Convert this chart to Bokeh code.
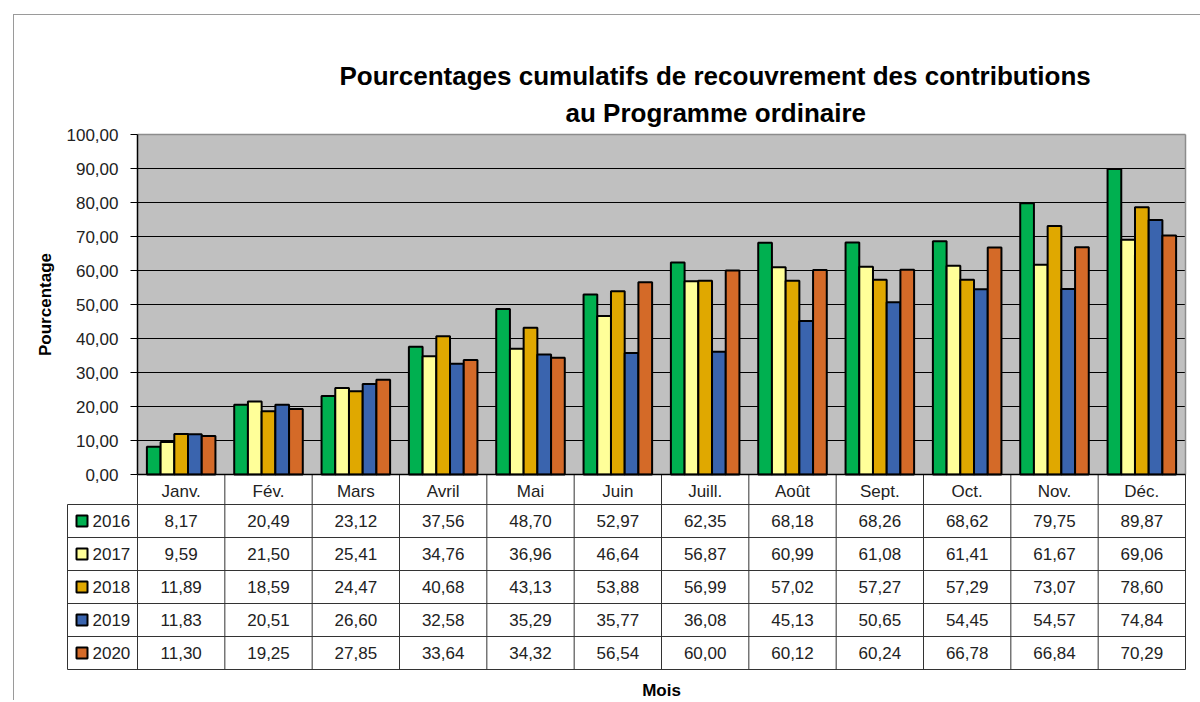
import math
from bokeh.plotting import figure
from bokeh.models import FixedTicker, Range1d, Title, ColumnDataSource, LinearAxis
from bokeh.transform import dodge
from bokeh.core.properties import value
from bokeh.embed import file_html
from bokeh.resources import INLINE

# ---------------- data ----------------
months = ["Janv.", "Fév.", "Mars", "Avril", "Mai", "Juin", "Juill.", "Août",
          "Sept.", "Oct.", "Nov.", "Déc."]
years = ["2016", "2017", "2018", "2019", "2020"]
v2016 = [8.17, 20.49, 23.12, 37.56, 48.70, 52.97, 62.35, 68.18, 68.26, 68.62, 79.75, 89.87]
v2017 = [9.59, 21.50, 25.41, 34.76, 36.96, 46.64, 56.87, 60.99, 61.08, 61.41, 61.67, 69.06]
v2018 = [11.89, 18.59, 24.47, 40.68, 43.13, 53.88, 56.99, 57.02, 57.27, 57.29, 73.07, 78.60]
v2019 = [11.83, 20.51, 26.60, 32.58, 35.29, 35.77, 36.08, 45.13, 50.65, 54.45, 54.57, 74.84]
v2020 = [11.30, 19.25, 27.85, 33.64, 34.32, 56.54, 60.00, 60.12, 60.24, 66.78, 66.84, 70.29]
series = [v2016, v2017, v2018, v2019, v2020]
colors = ["#00B050", "#FFFF99", "#E0A800", "#3A64AE", "#D46A28"]
y_ticks = [0, 10, 20, 30, 40, 50, 60, 70, 80, 90, 100]
y_tick_labels = ["0,00", "10,00", "20,00", "30,00", "40,00", "50,00",
                 "60,00", "70,00", "80,00", "90,00", "100,00"]
title_line1 = "Pourcentages cumulatifs de recouvrement des contributions"
title_line2 = "au Programme ordinaire"
y_label = "Pourcentage"
x_label = "Mois"

FONT = "Liberation Sans"
FS = "17px"

# ---------------- layout constants (canvas pixels) ----------------
W, H = 1200, 700
FRAME_TOP = 118
PLOT_L, PLOT_R = 137, 1185          # plot area left / right
PLOT_T, PLOT_B = 134, 474           # y=100 / y=0
LEG_L = 67                           # legend column left
TBL_B = 669                          # table bottom
ROW = 33.0                           # row height
NCAT = len(months)
PXU = (PLOT_R - PLOT_L) / NCAT       # px per category
PYU = (PLOT_B - PLOT_T) / 100.0      # px per percent
BAR_W = 0.157

def xd(px):
    return -0.5 + (px - PLOT_L) / PXU

x_rng = Range1d(xd(0), xd(W))
y_rng = Range1d(-(H - PLOT_B) / PYU, 100 + (PLOT_T - FRAME_TOP) / PYU)

xs = list(range(NCAT))
data = dict(x=xs)
for yr, vals in zip(years, series):
    data["y" + yr] = vals
src = ColumnDataSource(data)

p = figure(width=W, height=H, x_range=x_rng, y_range=y_rng,
           min_border_left=0, min_border_right=0, min_border_top=FRAME_TOP, min_border_bottom=0,
           x_axis_location=None, y_axis_location=None,
           output_backend="svg", toolbar_location=None, title=None)
p.border_fill_color = None
p.background_fill_color = None
p.outline_line_color = None
p.xgrid.visible = False
p.ygrid.visible = False
p.extra_y_ranges = {"tbl": Range1d(-(H - TBL_B) / ROW, (TBL_B - FRAME_TOP) / ROW)}
p.styles = {
    "background": "linear-gradient(#9a9a9a,#9a9a9a) 13px 14px / 1px 100% no-repeat, "
                  "linear-gradient(#9a9a9a,#9a9a9a) 13px 14px / 100% 1px no-repeat"}

# plot area
p.quad(left=[-0.5], right=[NCAT - 0.5], bottom=[0], top=[100],
       fill_color="#C0C0C0", line_color=None)
grid_y = y_ticks[1:-1]
p.segment(x0=[-0.5] * len(grid_y), x1=[NCAT - 0.5] * len(grid_y), y0=grid_y, y1=grid_y,
          line_color="black", line_width=1)
p.segment(x0=[-0.5, NCAT - 0.5], x1=[NCAT - 0.5, NCAT - 0.5], y0=[100, 100], y1=[100, 0],
          line_color="#8C8C8C", line_width=1.5)

for i, (yr, col) in enumerate(zip(years, colors)):
    p.vbar(x=dodge("x", (i - 2) * BAR_W, range=p.x_range), top="y" + yr, width=BAR_W,
           source=src, fill_color=col, line_color="black", line_width=2)

# y axis
yax = LinearAxis(fixed_location=-0.5, bounds=(0, 100), ticker=FixedTicker(ticks=y_ticks))
yax.major_label_overrides = {t: l for t, l in zip(y_ticks, y_tick_labels)}
yax.major_tick_out = 7
yax.major_tick_in = 0
yax.major_tick_line_color = "black"
yax.minor_tick_line_color = None
yax.axis_line_color = "black"
yax.axis_line_width = 1.5
yax.major_label_standoff = 12
yax.major_label_text_font = FONT
yax.major_label_text_font_size = FS
yax.major_label_text_color = "#222222"
p.add_layout(yax, "left")

# x axis (month categories)
xax = LinearAxis(fixed_location=0, bounds=(-0.5, NCAT - 0.5), ticker=FixedTicker(ticks=xs))
xax.major_label_overrides = {t: m for t, m in zip(xs, months)}
xax.major_tick_out = 0
xax.major_tick_in = 0
xax.major_tick_line_color = None
xax.minor_tick_line_color = None
xax.axis_line_color = "black"
xax.axis_line_width = 1.5
xax.major_label_standoff = 7
xax.major_label_text_font = FONT
xax.major_label_text_font_size = FS
xax.major_label_text_color = "#222222"
p.add_layout(xax, "below")

# axis titles
p.text(x=[xd(44.5)], y=[50], text=[y_label], angle=math.pi / 2, text_align="center",
       text_baseline="middle", text_font=value(FONT), text_font_size=FS,
       text_font_style="bold", text_color="black")
p.text(x=[(NCAT - 1) / 2.0], y=[-(690 - TBL_B) / ROW], y_range_name="tbl", text=[x_label],
       text_align="center", text_baseline="middle", text_font=value(FONT),
       text_font_size=FS, text_font_style="bold", text_color="black")

# titles (stacked upward from the frame)
p.add_layout(Title(text=title_line2, align="left", offset=565, text_font=FONT,
                   text_font_size="26px", text_font_style="bold", text_color="black",
                   standoff=-19), "above")
p.add_layout(Title(text=title_line1, align="left", offset=339, text_font=FONT,
                   text_font_size="26px", text_font_style="bold", text_color="black",
                   standoff=30), "above")

# ---------------- data table ----------------
nrow = len(years)
leg_left = xd(LEG_L)
cat_top = (TBL_B - PLOT_B) / ROW
p.segment(x0=[leg_left] * (nrow + 1), x1=[NCAT - 0.5] * (nrow + 1),
          y0=list(range(nrow + 1)), y1=list(range(nrow + 1)), y_range_name="tbl",
          line_color="#333333", line_width=1)
vx = [i - 0.5 for i in range(NCAT + 1)]
p.segment(x0=[leg_left] + vx, x1=[leg_left] + vx,
          y0=[0] * (len(vx) + 1), y1=[nrow] + [cat_top] * len(vx), y_range_name="tbl",
          line_color="#333333", line_width=1)

cell_x, cell_y, cell_t = [], [], []
for r, vals in enumerate(series):
    for i, v in enumerate(vals):
        cell_x.append(i)
        cell_y.append(nrow - 0.5 - r)
        cell_t.append(f"{v:.2f}".replace(".", ","))
p.text(x=cell_x, y=cell_y, text=cell_t, y_range_name="tbl", text_align="center",
       text_baseline="middle", text_font=value(FONT), text_font_size=FS, text_color="#222222")

row_y = [nrow - 0.5 - r for r in range(nrow)]
p.scatter(x=[xd(81.5)] * nrow, y=row_y, y_range_name="tbl", marker="square", size=11,
          fill_color=colors, line_color="black", line_width=2)
p.text(x=[xd(92)] * nrow, y=row_y, text=years, y_range_name="tbl", text_align="left",
       text_baseline="middle", text_font=value(FONT), text_font_size=FS, text_color="#222222")

open("out.html", "w").write(file_html(p, INLINE))
